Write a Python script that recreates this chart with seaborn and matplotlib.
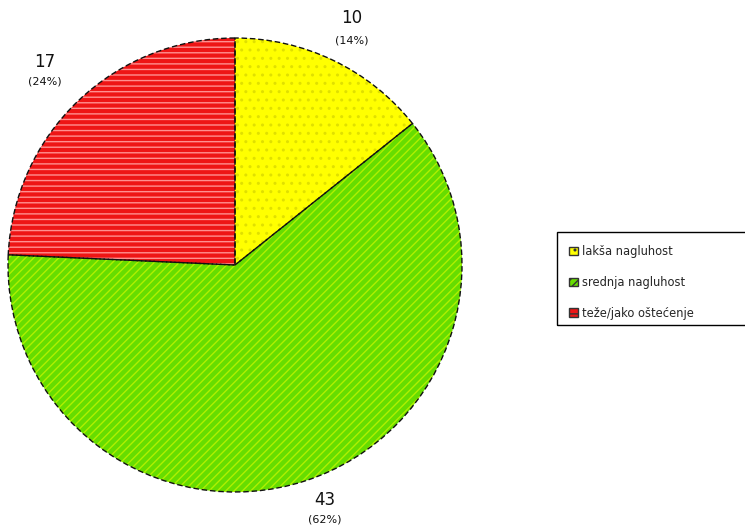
import matplotlib
matplotlib.use("Agg")
import matplotlib.pyplot as plt
import seaborn as sns
from matplotlib.patches import Patch, Rectangle

sns.set_theme(style="white")
plt.rcParams['font.family'] = ['DejaVu Sans']

categories = ["lakša nagluhost", "srednja nagluhost", "teže/jako oštećenje"]
values = [10, 43, 17]
pct_labels = ["(14%)", "(62%)", "(24%)"]
colors = ["#FFFF00", "#66DD00", "#EE1515"]
hatch_colors = ["#E0E000", "#B0F000", "#FF9090"]
hatches = ["..", "////", "---"]

fig = plt.figure(figsize=(7.45, 5.29), dpi=100)
ax = fig.add_axes([8/745, 1-492/529, 454/745, 454/529])

# fill with hatching (edgecolor acts as hatch colour)
wedges, _ = ax.pie(values, startangle=90, counterclock=False, colors=colors,
                   wedgeprops=dict(linewidth=0))
for w, hc, h in zip(wedges, hatch_colors, hatches):
    w.set_hatch(h)
    w.set_edgecolor(hc)
# outlines
outl, _ = ax.pie(values, startangle=90, counterclock=False,
                 wedgeprops=dict(fill=False, edgecolor="#111111", linewidth=1.0,
                                 linestyle=(0, (4, 2))))
ax.set_aspect("equal")
ax.set_xlim(-1, 1)
ax.set_ylim(-1, 1)

# labels (figure pixel positions)
label_pos = [(352, 18, 40), (325, 500, 520), (45, 62, 82)]
for v, p, (x, y1, y2) in zip(values, pct_labels, label_pos):
    fig.text(x/745, 1-y1/529, str(v), ha="center", va="center", fontsize=12, color="#111111")
    fig.text(x/745, 1-y2/529, p, ha="center", va="center", fontsize=8, color="#111111")

# legend frame
fig.patches.append(Rectangle((557/745, 1-325/529), 200/745, 93/529,
                             transform=fig.transFigure, fill=False,
                             edgecolor="black", linewidth=1.0))
handles = [Patch(facecolor=c, edgecolor="#333333", hatch=h) for c, h in zip(colors, hatches)]
leg = fig.legend(handles, categories, loc="upper left",
                 bbox_to_anchor=(561/745, 1-237/529),
                 frameon=False, fontsize=8.3,
                 handlelength=0.8, handleheight=0.8, handletextpad=0.35,
                 labelspacing=1.55, borderpad=0.2)

fig.savefig("out.png", dpi=100)
